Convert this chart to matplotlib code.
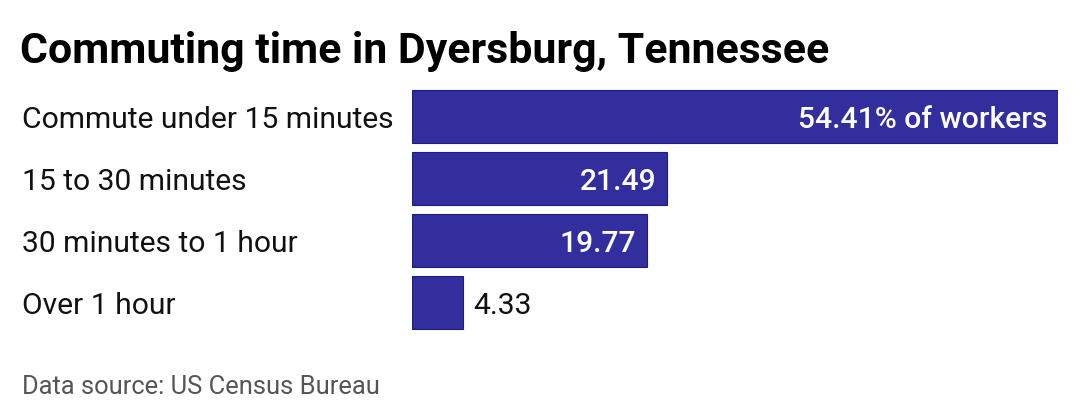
import matplotlib
matplotlib.use("Agg")
import matplotlib.pyplot as plt

categories = ["Commute under 15 minutes", "15 to 30 minutes", "30 minutes to 1 hour", "Over 1 hour"]
values = [54.41, 21.49, 19.77, 4.33]
value_labels = ["54.41% of workers", "21.49", "19.77", "4.33"]
title = "Commuting time in Dyersburg, Tennessee"
source = "Data source: US Census Bureau"

plt.rcParams['font.family'] = ['Roboto', 'DejaVu Sans']

W, H = 1080, 420
fig = plt.figure(figsize=(W / 100, H / 100), dpi=100)

x0, x1 = 412, 1058
ytop, ybot = 85.5, 333.5
ax = fig.add_axes([x0 / W, 1 - ybot / H, (x1 - x0) / W, (ybot - ytop) / H])
ypos = list(range(len(categories)))
ax.barh(ypos, values, height=53 / 62, color="#332e9e", edgecolor="#1f1b85", linewidth=0.8)
ax.set_xlim(0, max(values))
ax.set_ylim(len(categories) - 0.5, -0.5)
ax.axis("off")

for y, v, lab in zip(ypos, values, value_labels):
    if v > 10:
        ax.annotate(lab, (v, y), xytext=(-7.5, 0), textcoords="offset points",
                    ha="right", va="center_baseline", color="white", fontsize=21.6,
                    fontweight="medium")
    else:
        ax.annotate(lab, (v, y), xytext=(7, 0), textcoords="offset points",
                    ha="left", va="center_baseline", color="#111111", fontsize=21.6)

for y, cat in zip(ypos, categories):
    disp = ax.transData.transform((0, y))
    fy = disp[1] / H
    fig.text(22 / W, fy, cat, ha="left", va="center_baseline", fontsize=21.6, color="#111111")

fig.text(20 / W, 1 - 47 / H, title, ha="left", va="center_baseline", fontsize=30.9, fontweight="bold", color="#000000")
fig.text(22 / W, 1 - 384 / H, source, ha="left", va="center_baseline", fontsize=18.4, color="#555555")

fig.savefig("out.png", dpi=100, facecolor="white")
